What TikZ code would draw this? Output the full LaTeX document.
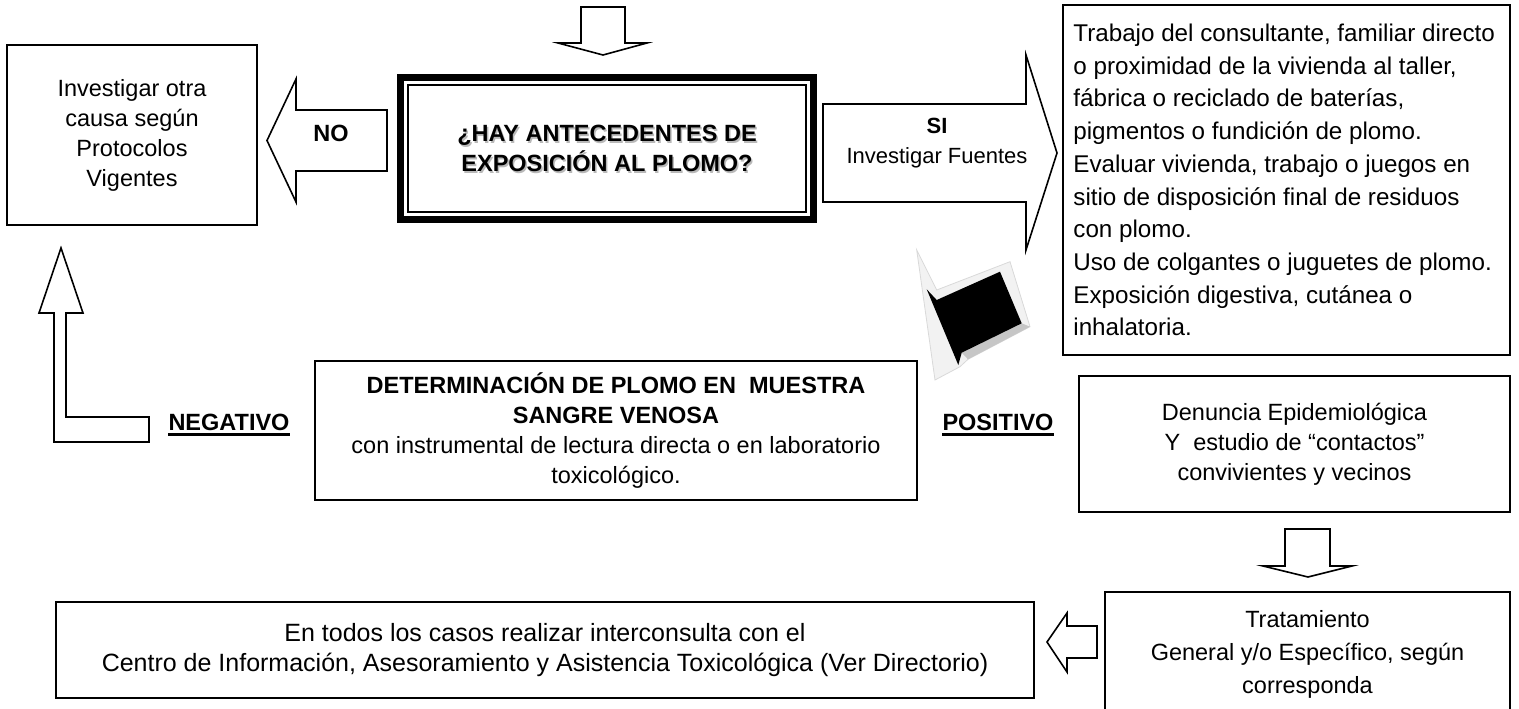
\documentclass[tikz,border=0pt]{standalone}
\usepackage{fontspec}
\setmainfont{Liberation Sans}
\newcommand\myfs{\fontsize{23.5}{30}\selectfont}
\newcommand\myfsw{\fontsize{24.2}{32.7}\selectfont}
\tikzset{
  box/.style={draw, line width=1.6pt, align=center, inner sep=0pt, font=\myfs},
  txt/.style={align=center, inner sep=0pt, font=\myfs},
  lbl/.style={inner sep=0pt, font=\myfs\bfseries},
  blockarrow/.style={draw, line width=1.6pt, fill=white, line join=miter},
}
\begin{document}
\begin{tikzpicture}[x=1pt,y=-1pt]
\useasboundingbox (0,0) rectangle (1519,709);

% ---------- boxes ----------
\node[box, minimum width=250pt, minimum height=180pt] (inv) at (132,135)
  {Investigar otra\\causa según\\Protocolos\\Vigentes};

% central question box
\coordinate (qc) at (607,148.5);
\node[lbl, align=center, text=gray!55] (qs) at ([shift={(1.5,1.5)}]qc)
  {¿HAY ANTECEDENTES DE\\EXPOSICIÓN AL PLOMO?};
\node[lbl, align=center, minimum width=420pt, minimum height=149pt] (q) at (qc)
  {¿HAY ANTECEDENTES DE\\EXPOSICIÓN AL PLOMO?};
\draw[line width=7pt] ([shift={(3.5,3.5)}]q.north west) rectangle ([shift={(-3.5,-3.5)}]q.south east);
\draw[line width=1.8pt] ([shift={(11,11)}]q.north west) rectangle ([shift={(-11,-11)}]q.south east);

% sources box
\node[box, minimum width=447pt, minimum height=350pt] (src) at (1286.5,180) {};
\node[txt, align=left, font=\myfsw, anchor=west] (srctxt) at ([xshift=11pt]src.west)
  {Trabajo del consultante, familiar directo\\
   o proximidad de la vivienda al taller,\\
   fábrica o reciclado de baterías,\\
   pigmentos o fundición de plomo.\\
   Evaluar vivienda, trabajo o juegos en\\
   sitio de disposición final de residuos\\
   con plomo.\\
   Uso de colgantes o juguetes de plomo.\\
   Exposición digestiva, cutánea o\\
   inhalatoria.};

% determination box
\node[box, minimum width=602pt, minimum height=139pt] (det) at (616,430.5)
  {\textbf{DETERMINACIÓN DE PLOMO EN\ \ MUESTRA}\\\textbf{SANGRE VENOSA}\\
   con instrumental de lectura directa o en laboratorio\\toxicológico.};

% denuncia box
\node[box, minimum width=431pt, minimum height=136pt] (den) at (1294.5,444)
  {Denuncia Epidemiológica\\Y\ \ estudio de “contactos”\\convivientes y vecinos};

% tratamiento box
\node[box, minimum width=405pt, minimum height=140pt] (tra) at (1307.5,662) {};
\node[txt, font=\fontsize{23.5}{33}\selectfont] (tratxt) at (1307.5,654)
  {Tratamiento\\General y/o Específico, según\\corresponda};

% directorio box
\node[box, minimum width=978pt, minimum height=96pt, font=\fontsize{25}{30}\selectfont] (dir) at (545,650)
  {En todos los casos realizar interconsulta con el\\
   Centro de Información, Asesoramiento y Asistencia Toxicológica (Ver Directorio)};

% ---------- block arrows ----------
% top entry arrow
\draw[blockarrow] (581,7) -- (625,7) -- (625,43) -- (647,43) -- (603,55) -- (558,43) -- (581,43) -- cycle;

% NO arrow
\draw[blockarrow] (387,110) -- (296,110) -- (296,79) -- (267,140.5) -- (296,202) -- (296,171) -- (387,171) -- cycle;
\node[lbl] (no) at (331,133) {NO};

% SI arrow
\draw[blockarrow] (823,104) -- (1026,104) -- (1026,55) -- (1057,153) -- (1026,250) -- (1026,202) -- (823,202) -- cycle;
\node[txt, font=\fontsize{22}{30}\selectfont] (si) at (937,143) {\textbf{SI}\\Investigar Fuentes};

% black 3D arrow towards POSITIVO
\draw[fill=gray!10, draw=gray!30, line width=0.8pt, line join=miter]
  (916.7,250) -- (936.7,290) -- (1010,261.7) -- (1030,326.7) -- (968,359.3) -- (960,366.7) -- (935,380) -- cycle;
\fill[gray!45] (1021.7,323.3) -- (1030,326.7) -- (968,359.3) -- (961.7,352.7) -- cycle;
\fill[black] (926.7,289.3) -- (936.7,300) -- (1000,271.7) -- (1021.7,323.3) -- (961.7,352.7) -- (958.3,365) -- cycle;

% labels
\node[lbl, anchor=base] (pos) at (998,430) {POSITIVO};
\draw[line width=2.4pt] ([yshift=-4.5pt]pos.base west) -- ([yshift=-4.5pt]pos.base east);
\node[lbl, anchor=base] (neg) at (229,430) {NEGATIVO};
\draw[line width=2.4pt] ([yshift=-4.5pt]neg.base west) -- ([yshift=-4.5pt]neg.base east);

% L-shaped arrow up to investigate other cause
\draw[blockarrow] (54,442) -- (54,313) -- (39,313) -- (61,248) -- (83,313) -- (66,313) -- (66,417) -- (149,417) -- (149,442) -- cycle;

% down arrow denuncia -> tratamiento
\draw[blockarrow] (1285,529) -- (1330,529) -- (1330,566) -- (1352,566) -- (1308,577) -- (1263,566) -- (1285,566) -- cycle;

% left arrow tratamiento -> directorio
\draw[blockarrow] (1097,626) -- (1067,626) -- (1067,613) -- (1047,642) -- (1067,672) -- (1067,658) -- (1097,658) -- cycle;
\end{tikzpicture}
\end{document}
